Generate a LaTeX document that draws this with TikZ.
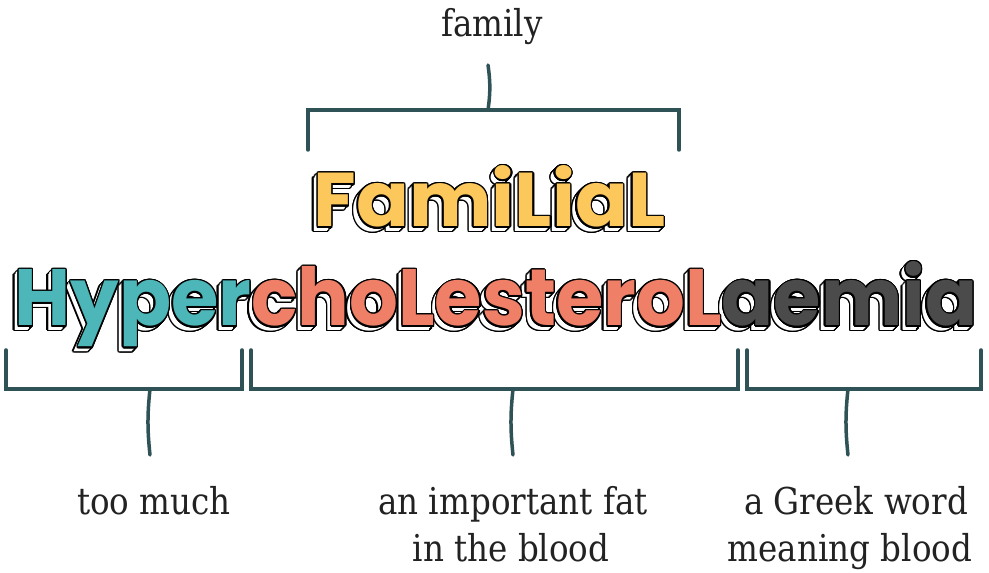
\documentclass[tikz,border=0pt]{standalone}
\usepackage{graphicx}
\usepackage{fontspec}
\setmainfont{DejaVu Serif}[FakeStretch=0.88]
\newfontfamily\bigfont{Poppins}
\usepackage[copies]{contour}
\contourlength{1.5pt}
\contournumber{20}
\definecolor{cyel}{HTML}{FCC75B}
\definecolor{cteal}{HTML}{4DB6B9}
\definecolor{csal}{HTML}{F07F68}
\definecolor{cgray}{HTML}{4B4B4B}
\definecolor{cbrk}{HTML}{2E5255}
\definecolor{ctxt}{HTML}{222222}
\newcommand\exlayer[3]{\rlap{\kern#1\raisebox{#2}{#3}}}
\newcommand\hyword[3]{{\bigfont\bfseries\fontsize{88}{88}\selectfont\textcolor{#1}{Hyper}\textcolor{#2}{choLesteroL}\textcolor{#3}{aemia}}}
\newcommand\faword[3]{{\bigfont\bfseries\fontsize{88}{88}\selectfont\textcolor{#1}{FamiLiaL}}}
\newcommand\fancyword[4]{\hbox{\kern5pt%
 \exlayer{-5pt}{-5pt}{\contour{black}{#1{black}{black}{black}}}%
 \exlayer{-3.5pt}{-3.5pt}{\contour{black}{#1{black}{black}{black}}}%
 \exlayer{-2pt}{-2pt}{\contour{black}{#1{black}{black}{black}}}%
 \exlayer{-5pt}{-5pt}{#1{white}{white}{white}}%
 \exlayer{-4pt}{-4pt}{#1{white}{white}{white}}%
 \exlayer{-3pt}{-3pt}{#1{white}{white}{white}}%
 \exlayer{-2pt}{-2pt}{#1{white}{white}{white}}%
 \exlayer{-1pt}{-1pt}{#1{white}{white}{white}}%
 \exlayer{0pt}{0pt}{\contour{black}{#1{black}{black}{black}}}%
 \exlayer{0pt}{0pt}{#1{#2}{#3}{#4}}%
 \phantom{#1{black}{black}{black}}}}
\tikzset{
 brk/.style={draw=cbrk, line width=3.5pt, line cap=round, line join=miter},
 lbl/.style={text=ctxt, inner sep=0pt, font=\fontsize{37}{44}\selectfont, anchor=base},
 bigword/.style={inner sep=0pt, anchor=base west}
}
\begin{document}
\begin{tikzpicture}[x=1pt,y=1pt]
\useasboundingbox (0,0) rectangle (989,573);
% big words
\node[bigword] (fam) at (309,346) {\resizebox{356pt}{61pt}{\fancyword{\faword}{cyel}{}{}}};
\node[bigword] (hyp) at (10,247) {\resizebox{967pt}{64pt}{\fancyword{\hyword}{cteal}{csal}{cgray}}};
% labels
\node[lbl] (lfam) at (492,536) {family};
\node[lbl] (ltoo) at (154,58) {too much};
\node[lbl] (lfat1) at (513,58) {an important fat};
\node[lbl] (lfat2) at (511,11) {in the blood};
\node[lbl] (lgr1) at (856,58) {a Greek word};
\node[lbl] (lgr2) at (850,11) {meaning blood};
% top bracket
\coordinate (tA) at (308,423); \coordinate (tB) at (308,463);
\coordinate (tC) at (679,463); \coordinate (tD) at (679,423);
\coordinate (tS) at (488,508); \coordinate (tM) at (488,463);
\draw[brk] (tA) -- (tB) -- (tC) -- (tD);
\draw[brk] (tM) to[bend right=8] (tS);
% bottom left bracket
\coordinate (aA) at (6,223); \coordinate (aB) at (6,184);
\coordinate (aC) at (242,184); \coordinate (aD) at (242,223);
\coordinate (aM) at (150,184); \coordinate (aS) at (150,118);
\draw[brk] (aA) -- (aB) -- (aC) -- (aD);
\draw[brk] (aM) to[bend right=6] (aS);
% bottom middle bracket
\coordinate (bA) at (251,223); \coordinate (bB) at (251,184);
\coordinate (bC) at (738,184); \coordinate (bD) at (738,223);
\coordinate (bM) at (513,184); \coordinate (bS) at (513,118);
\draw[brk] (bA) -- (bB) -- (bC) -- (bD);
\draw[brk] (bM) to[bend right=6] (bS);
% bottom right bracket
\coordinate (cA) at (747,223); \coordinate (cB) at (747,184);
\coordinate (cC) at (981,184); \coordinate (cD) at (981,223);
\coordinate (cM) at (848,184); \coordinate (cS) at (848,118);
\draw[brk] (cA) -- (cB) -- (cC) -- (cD);
\draw[brk] (cM) to[bend right=6] (cS);
\end{tikzpicture}
\end{document}
